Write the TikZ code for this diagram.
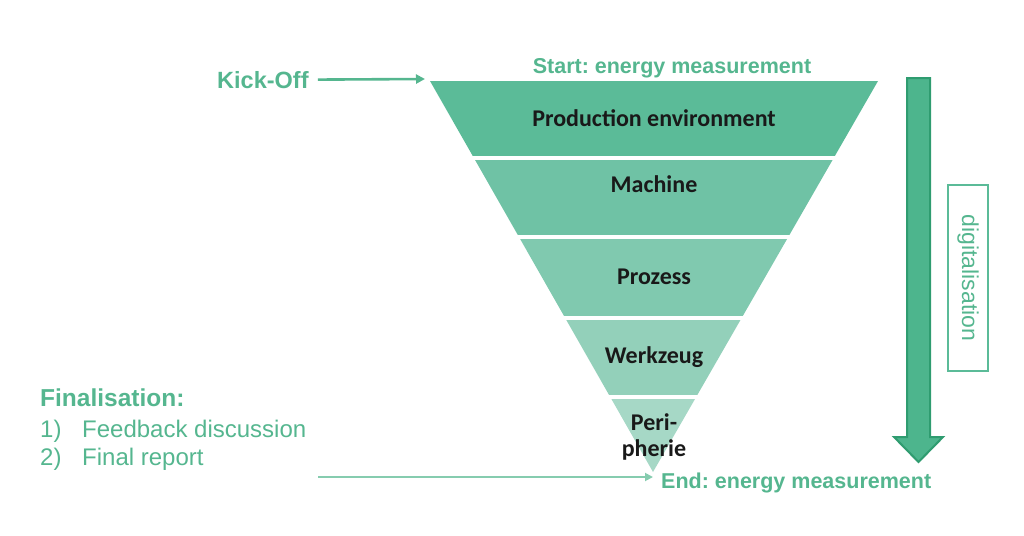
\documentclass[tikz,border=0pt]{standalone}
\usepackage{fontspec}
\setmainfont{Liberation Sans}
\newfontfamily\bandfont{Carlito}
\usetikzlibrary{arrows.meta,positioning}
\frenchspacing
\definecolor{textgreen}{HTML}{55B68F}
\definecolor{lightline}{HTML}{86CCAF}
\definecolor{bandone}{HTML}{5BBB98}
\definecolor{bandtwo}{HTML}{6FC2A5}
\definecolor{bandthree}{HTML}{80C9AF}
\definecolor{bandfour}{HTML}{93D0BA}
\definecolor{bandfive}{HTML}{A6D8C6}
\definecolor{digifill}{HTML}{4DB58D}
\definecolor{digidark}{HTML}{2F9C70}
\tikzset{
  bandlabel/.style={
    font=\bandfont\bfseries\fontsize{24}{26}\selectfont,
    text=black!90,
    align=center,
    inner sep=0pt
  },
  greenlabel/.style={
    font=\bfseries\fontsize{21.5}{26}\selectfont,
    text=textgreen,
    inner sep=2pt
  },
  finlabel/.style={
    font=\fontsize{24}{28}\selectfont,
    text=textgreen,
    anchor=base west,
    inner sep=0pt
  },
  digibox/.style={
    draw=bandone,
    line width=1.2pt,
    text=textgreen,
    font=\fontsize{23}{28}\selectfont,
    minimum width=186pt,
    minimum height=40pt,
    inner sep=0pt
  },
  kickarrow/.style={
    -{Triangle[length=9pt,width=9pt]},
    line width=2.6pt,
    draw=textgreen
  },
  endarrow/.style={
    -{Triangle[length=8pt,width=8pt]},
    line width=1.8pt,
    draw=lightline
  }
}

\begin{document}
\begin{tikzpicture}[x=1pt,y=-1pt]
    \useasboundingbox (0,0) rectangle (1024,535);

    % funnel bands
    \begin{scope}
        \clip (430,81) -- (878,81) -- (653,472) -- cycle;
        \fill[bandone] (400,81) rectangle (900,156);
        \fill[bandtwo] (400,160) rectangle (900,235);
        \fill[bandthree] (400,239) rectangle (900,316);
        \fill[bandfour] (400,320) rectangle (900,395);
        \fill[bandfive] (400,399) rectangle (900,480);
    \end{scope}

    \node[bandlabel] (prodenv) at (654,118) {Production environment};
    \node[bandlabel] (machine) at (654,184) {Machine};
    \node[bandlabel] (prozess) at (654,277) {Prozess};
    \node[bandlabel] (werkzeug) at (654,357) {Werkzeug};
    \node[bandlabel] (peri) at (654,437) {Peri-\\pherie};

    % start and end
    \node[greenlabel, anchor=base] (starttxt) at (672,73) {Start: energy measurement};
    \node[greenlabel, anchor=base west, inner sep=0pt] (endtxt) at (661,488) {End: energy measurement};

    \node[greenlabel, anchor=base west, inner sep=0pt,
          font=\bfseries\fontsize{23.5}{28}\selectfont] (kickoff) at (217,88) {Kick-Off};
    \coordinate (funneltop) at (425,79);
    \draw[kickarrow] ([xshift=9pt]kickoff.east) -- (funneltop);

    % finalisation
    \node[finlabel, font=\bfseries\fontsize{24.5}{28}\selectfont] (fintitle) at (40,406) {Finalisation:};
    \node[finlabel] (finone) at (40,437) {\makebox[42pt][l]{1)}Feedback discussion};
    \node[finlabel] (fintwo) at (40,465) {\makebox[42pt][l]{2)}Final report};

    \coordinate (finstart) at (318,477);
    \coordinate (apex) at (653,477);
    \draw[endarrow] (finstart) -- (apex);

    % digitalisation arrow
    \draw[fill=digifill, draw=digidark, line width=2pt, line join=miter]
        (907,78) -- (930,78) -- (930,437) -- (943,437) -- (918.5,462)
        -- (894,437) -- (907,437) -- cycle;
    \node[digibox, rotate=-90] (digital) at (968,278) {digitalisation};
\end{tikzpicture}
\end{document}
